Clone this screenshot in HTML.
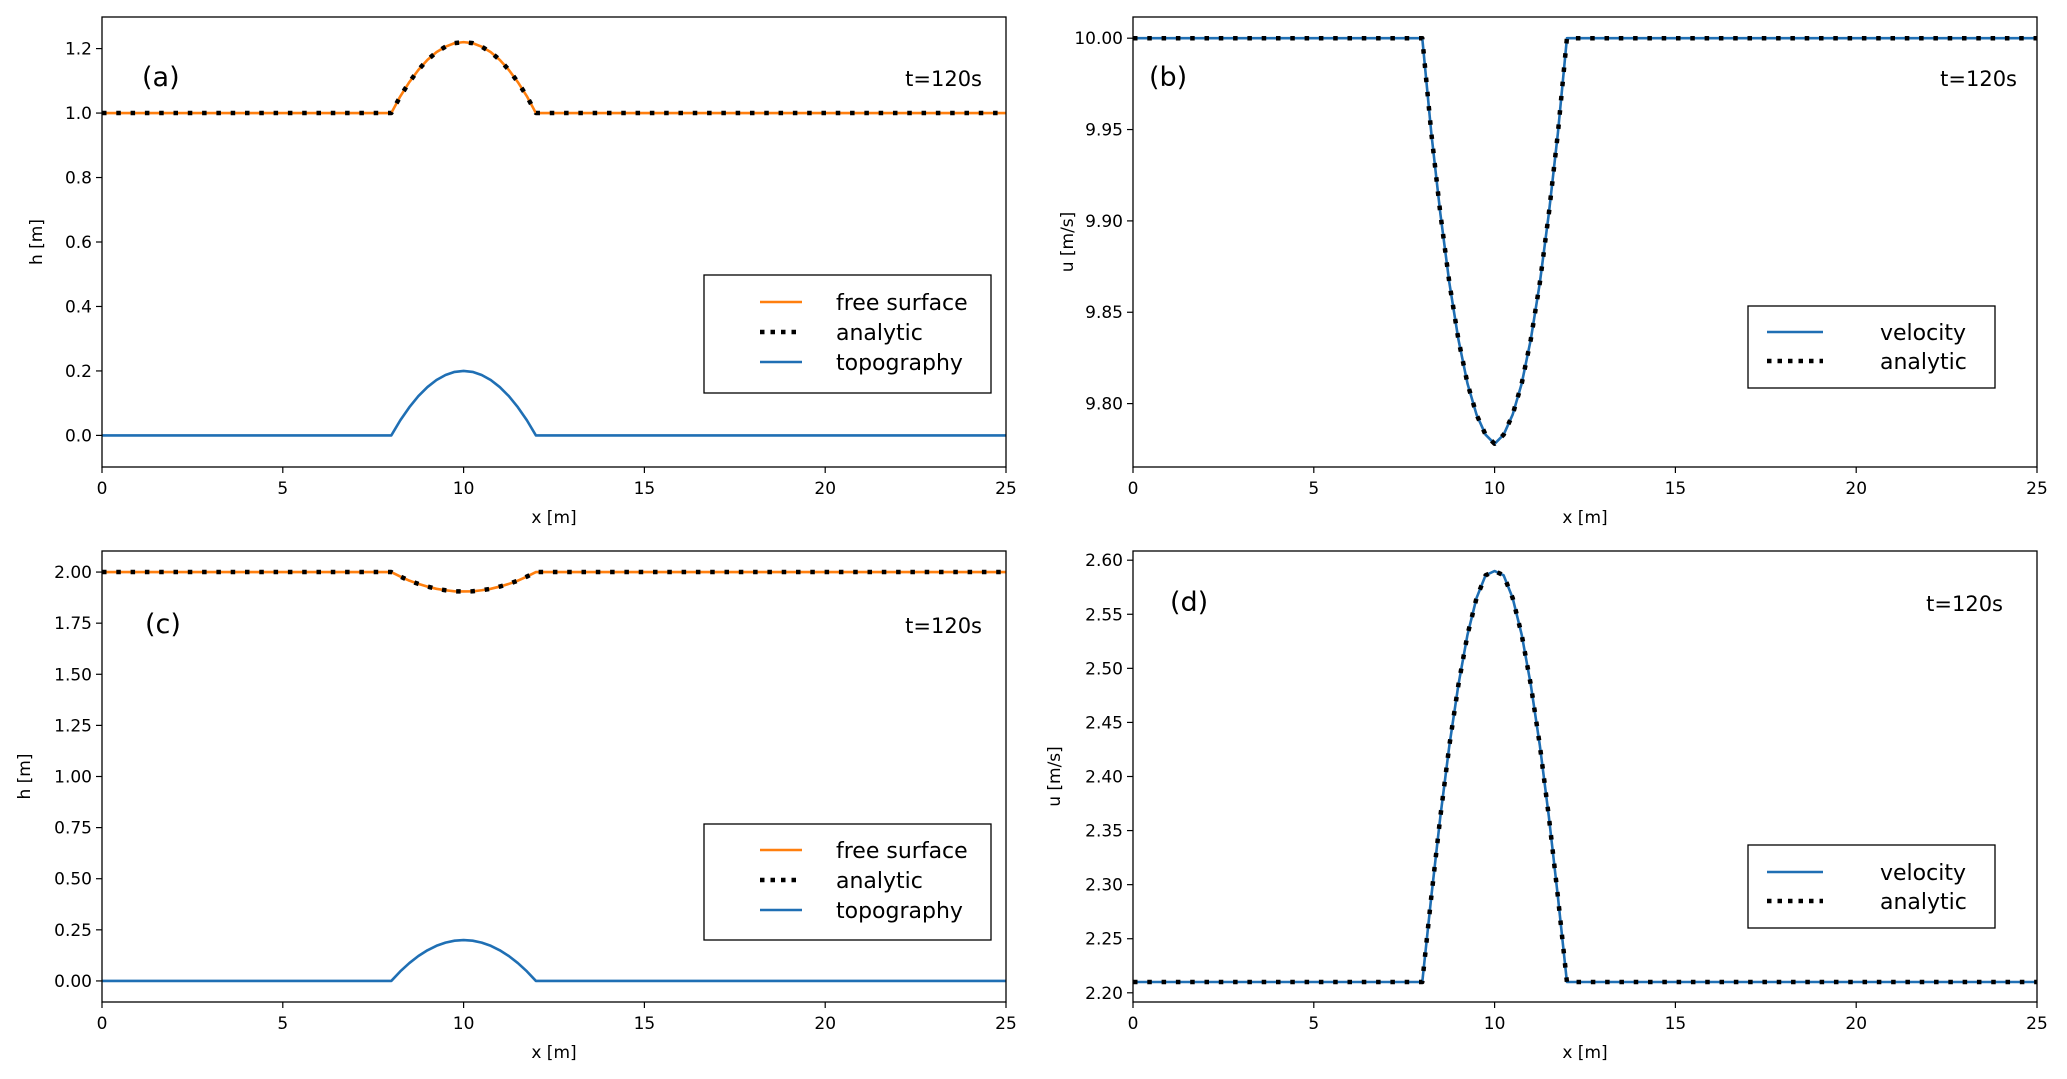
<!DOCTYPE html>
<html><head><meta charset="utf-8">
<style>
html,body{margin:0;padding:0;background:#fff;}
svg{display:block;font-family:"DejaVu Sans","Liberation Sans",sans-serif;}
</style></head>
<body>
<svg id="fig" width="2067" height="1079" viewBox="0 0 2067 1079" xmlns="http://www.w3.org/2000/svg"></svg>
<script>
// ---- data ----
const xs = [0, 8, 8.25, 8.5, 8.75, 9, 9.25, 9.5, 9.75, 10, 10.25, 10.5, 10.75, 11, 11.25, 11.5, 11.75, 12, 25];
const topo = [0, 0, 0.047, 0.0875, 0.122, 0.15, 0.172, 0.1875, 0.197, 0.2, 0.197, 0.1875, 0.172, 0.15, 0.122, 0.0875, 0.047, 0, 0];
const surfA = [1.0, 1.0, 1.052, 1.096, 1.134, 1.165, 1.189, 1.206, 1.217, 1.22, 1.217, 1.206, 1.189, 1.165, 1.134, 1.096, 1.052, 1.0, 1.0];
const velB = [10.0, 10.0, 9.948, 9.904, 9.866, 9.835, 9.811, 9.794, 9.783, 9.778, 9.783, 9.794, 9.811, 9.835, 9.866, 9.904, 9.948, 10.0, 10.0];
const surfC = [2.0, 2.0, 1.978, 1.958, 1.942, 1.929, 1.918, 1.911, 1.906, 1.905, 1.906, 1.911, 1.918, 1.929, 1.942, 1.958, 1.978, 2.0, 2.0];
const velD = [2.21, 2.21, 2.289, 2.363, 2.429, 2.485, 2.531, 2.565, 2.586, 2.59, 2.586, 2.565, 2.531, 2.485, 2.429, 2.363, 2.289, 2.21, 2.21];
const xTicks = [0, 5, 10, 15, 20, 25];
const yTicksA = ["0.0", "0.2", "0.4", "0.6", "0.8", "1.0", "1.2"];
const yTicksB = ["9.80", "9.85", "9.90", "9.95", "10.00"];
const yTicksC = ["0.00", "0.25", "0.50", "0.75", "1.00", "1.25", "1.50", "1.75", "2.00"];
const yTicksD = ["2.20", "2.25", "2.30", "2.35", "2.40", "2.45", "2.50", "2.55", "2.60"];

const NS = "http://www.w3.org/2000/svg";
const svg = document.getElementById("fig");
const BLUE = "#1f6fb4", ORANGE = "#ff7f0e";
function mk(tag, attrs, parent) {
  const e = document.createElementNS(NS, tag);
  for (const k in attrs) e.setAttribute(k, attrs[k]);
  (parent || svg).appendChild(e);
  return e;
}
function panel(cfg) {
  const g = mk("g", {});
  
  
  const L = cfg.L, R = cfg.R, T = cfg.T, B = cfg.B;
  const sx = v => L + (v - 0) / 25 * (R - L);
  const sy = v => B - (v - cfg.ymin) / (cfg.ymax - cfg.ymin) * (B - T);
  xTicks.forEach(t => {
    mk("line", {x1: sx(t), x2: sx(t), y1: B, y2: B + 6, stroke: "#000", "stroke-width": 1.2}, g);
    const tx = mk("text", {x: sx(t), y: B + 27, "font-size": 17, "text-anchor": "middle"}, g);
    tx.textContent = t;
    
    
  });
  cfg.yt.forEach(s => {
    const v = parseFloat(s), y = sy(v);
    mk("line", {x1: L - 6, x2: L, y1: y, y2: y, stroke: "#000", "stroke-width": 1.2}, g);
    const tx = mk("text", {x: L - 10, y: y + 6, "font-size": 17, "text-anchor": "end"}, g);
    tx.textContent = s;
    
    
  });
  const xl = mk("text", {x: (L + R) / 2, y: B + 56, "font-size": 17, "text-anchor": "middle"}, g);
  xl.textContent = "x [m]";
  
  
  const yl = mk("text", {x: cfg.ylx, y: (T + B) / 2, "font-size": 17, "text-anchor": "middle", transform: "rotate(-90 " + cfg.ylx + " " + (T + B) / 2 + ")"}, g);
  yl.textContent = cfg.ylabel;
  
  
  const cp = mk("clipPath", {id: "cp" + cfg.id}, g);
  mk("rect", {x: L, y: T, width: R - L, height: B - T}, cp);
  const lg = mk("g", {"clip-path": "url(#cp" + cfg.id + ")"}, g);
  const pts = arr => arr.map((v, i) => sx(xs[i]).toFixed(2) + "," + sy(v).toFixed(2)).join(" ");
  cfg.series.forEach(s => {
    const p = mk("polyline", {points: pts(s.data), fill: "none", stroke: s.color, "stroke-width": s.dot ? 4.5 : 2.6,
      "stroke-dasharray": s.dot ? "4.5 9.8" : "none", "stroke-linejoin": "round"}, lg);
    
    
  });
  mk("rect", {x: L, y: T, width: R - L, height: B - T, fill: "none", stroke: "#000", "stroke-width": 1.3}, g);
  const pl = mk("text", {x: cfg.plx, y: cfg.ply, "font-size": 27}, g);
  pl.textContent = "(" + cfg.id + ")";
  
  
  const tl = mk("text", {x: cfg.tx, y: cfg.ty, "font-size": 21, "text-anchor": "end"}, g);
  tl.textContent = "t=120s";
  
  
  const lb = cfg.leg;
  const legend = mk("g", {}, g);
  
  
  mk("rect", {x: lb.x, y: lb.y, width: lb.w, height: lb.h, fill: "#fff", stroke: "#000", "stroke-width": 1.3}, legend);
  lb.items.forEach((it, i) => {
    const y = lb.r0 + i * lb.dr;
    mk("line", {x1: lb.l1, x2: lb.l2, y1: y, y2: y, stroke: it.color, "stroke-width": it.dot ? 4.5 : 2.6, "stroke-dasharray": it.dot ? "4.5 6" : "none"}, legend);
    const t = mk("text", {x: lb.tx, y: y + 8, "font-size": 22}, legend);
    t.textContent = it.label;
    
    
  });
}
const legA = items => ({x: 704, w: 287, l1: 760, l2: 802, tx: 836, items: items});
panel({id: "a", L: 102, R: 1006, T: 17, B: 467, ymin: -0.098, ymax: 1.298, yt: yTicksA, ylabel: "h [m]", ylx: 42,
  plx: 142, ply: 86, tx: 982, ty: 86,
  series: [{data: surfA, color: ORANGE, name: "free-surface"}, {data: surfA, color: "#000", dot: true, name: "analytic"}, {data: topo, color: BLUE, name: "topography"}],
  leg: Object.assign(legA([{label: "free surface", color: ORANGE}, {label: "analytic", color: "#000", dot: true}, {label: "topography", color: BLUE}]), {y: 275, h: 118, r0: 302, dr: 30})});
panel({id: "b", L: 1133, R: 2037, T: 17, B: 467, ymin: 9.7653, ymax: 10.0116, yt: yTicksB, ylabel: "u [m/s]", ylx: 1073,
  plx: 1149, ply: 86, tx: 2017, ty: 86,
  series: [{data: velB, color: BLUE, name: "velocity"}, {data: velB, color: "#000", dot: true, name: "analytic"}],
  leg: {x: 1748, y: 306, w: 247, h: 82, l1: 1767, l2: 1823, tx: 1880, r0: 332, dr: 29, items: [{label: "velocity", color: BLUE}, {label: "analytic", color: "#000", dot: true}]}});
panel({id: "c", L: 102, R: 1006, T: 551, B: 1002, ymin: -0.103, ymax: 2.103, yt: yTicksC, ylabel: "h [m]", ylx: 30,
  plx: 145, ply: 633, tx: 982, ty: 633,
  series: [{data: surfC, color: ORANGE, name: "free-surface"}, {data: surfC, color: "#000", dot: true, name: "analytic"}, {data: topo, color: BLUE, name: "topography"}],
  leg: Object.assign(legA([{label: "free surface", color: ORANGE}, {label: "analytic", color: "#000", dot: true}, {label: "topography", color: BLUE}]), {y: 824, h: 116, r0: 850, dr: 30})});
panel({id: "d", L: 1133, R: 2037, T: 551, B: 1002, ymin: 2.1915, ymax: 2.6085, yt: yTicksD, ylabel: "u [m/s]", ylx: 1060,
  plx: 1170, ply: 611, tx: 2003, ty: 611,
  series: [{data: velD, color: BLUE, name: "velocity"}, {data: velD, color: "#000", dot: true, name: "analytic"}],
  leg: {x: 1748, y: 845, w: 247, h: 83, l1: 1767, l2: 1823, tx: 1880, r0: 872, dr: 29, items: [{label: "velocity", color: BLUE}, {label: "analytic", color: "#000", dot: true}]}});
</script>
</body></html>
